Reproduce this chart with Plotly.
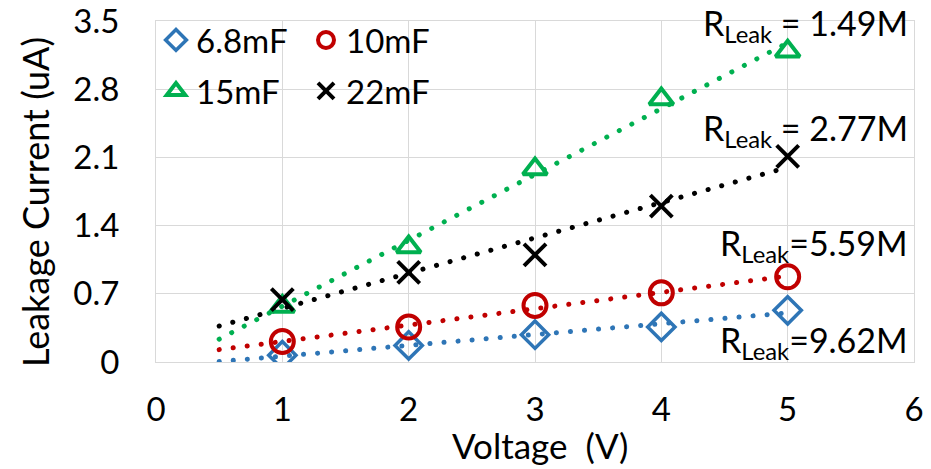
import numpy as np
import plotly.graph_objects as go

voltage = [1, 2, 3, 4, 5]
names = ["6.8mF", "10mF", "15mF", "22mF"]
i_68 = [0.07, 0.17, 0.28, 0.36, 0.53]
i_10 = [0.21, 0.36, 0.58, 0.71, 0.875]
i_15 = [0.57, 1.18, 1.98, 2.70, 3.19]
i_22 = [0.64, 0.92, 1.10, 1.60, 2.11]
trend_range = [0.5, 5]
rleak_labels = ["R<sub>Leak</sub>=9.62M", "R<sub>Leak</sub>=5.59M",
                "R<sub>Leak</sub> = 1.49M", "R<sub>Leak</sub> = 2.77M"]
y_ticks = [0, 0.7, 1.4, 2.1, 2.8, 3.5]
x_ticks = [0, 1, 2, 3, 4, 5, 6]

colors = ["#2E75B6", "#C00000", "#00B050", "#000000"]
symbols = ["diamond-open", "circle-open", "triangle-up-open", "x-thin-open"]
msizes = [21, 23, 21, 22]
mwidths = [3.5, 4, 4, 4]
legends = ["legend", "legend", "legend2", "legend2"]
series = [i_68, i_10, i_15, i_22]

FONT = "Lato, Calibri, Carlito, sans-serif"
L, R, T, B = 156, 914, 21, 362
fig = go.Figure()

for ys, col in zip(series, colors):
    k, b = np.polyfit(voltage, ys, 1)
    tx = np.array(trend_range, dtype=float)
    fig.add_trace(go.Scatter(x=tx, y=k * tx + b, mode="lines",
                             line=dict(color=col, width=5, dash="0.1px,14px"),
                             showlegend=False, hoverinfo="skip"))

for ys, col, sym, ms, mw, nm, lg in zip(series, colors, symbols, msizes, mwidths, names, legends):
    fig.add_trace(go.Scatter(x=voltage, y=ys, mode="markers", name=nm, legend=lg,
                             marker=dict(symbol=sym, size=ms, color=col,
                                         line=dict(color=col, width=mw))))

def px(x):
    return (x - L) / (R - L)

def py(y):
    return 1 - (y - T) / (B - T)

ann_pos = [(910, 342), (910, 245), (910, 25), (910, 130)]
for txt, (ax, ay) in zip(rleak_labels, ann_pos):
    fig.add_annotation(text=txt, xref="paper", yref="paper", x=px(ax), y=py(ay),
                       xanchor="right", yanchor="middle", showarrow=False,
                       font=dict(family=FONT, size=34, color="#000"))

fig.add_annotation(text="Voltage  (V)", xref="paper", yref="paper",
                   x=px(540), y=py(445), xanchor="center", yanchor="middle",
                   showarrow=False, font=dict(family=FONT, size=35, color="#000"))
fig.add_annotation(text="Leakage Current (uA)", xref="paper", yref="paper",
                   x=px(35), y=py(202), textangle=-90,
                   xanchor="center", yanchor="middle", showarrow=False,
                   font=dict(family=FONT, size=36, color="#000"))

legend_common = dict(orientation="h", xanchor="left", yanchor="top",
                     bgcolor="rgba(0,0,0,0)", entrywidth=105, entrywidthmode="pixels",
                     font=dict(family=FONT, size=33, color="#000"), itemwidth=30,
                     tracegroupgap=0)

fig.update_layout(
    width=931, height=469,
    margin=dict(l=L, r=931 - R, t=T, b=469 - B, autoexpand=False),
    paper_bgcolor="white", plot_bgcolor="white",
    font=dict(family=FONT, size=32, color="#000"),
    showlegend=True,
    legend=dict(x=0.0, y=py(12), **legend_common),
    legend2=dict(x=0.0, y=py(63), **legend_common),
    xaxis=dict(range=[0, 6], tickvals=x_ticks, showgrid=True, gridcolor="#D9D9D9",
               gridwidth=1, zeroline=False, showline=True, linecolor="#D9D9D9",
               mirror=True, ticks="", ticklabelstandoff=18, automargin=False,
               ticklabeloverflow="allow", tickfont=dict(family=FONT, size=33)),
    yaxis=dict(range=[0, 3.5], tickvals=y_ticks, showgrid=True, gridcolor="#D9D9D9",
               gridwidth=1, zeroline=False, showline=True, linecolor="#D9D9D9",
               mirror=True, ticks="", ticklabelstandoff=29, automargin=False,
               ticklabeloverflow="allow", tickfont=dict(family=FONT, size=33)),
)

fig.write_html("out.html", config={"displayModeBar": False},
               post_script="document.body.style.margin='0';document.body.style.padding='0';"
                           "document.querySelectorAll('path.js-line').forEach(function(p){p.style.strokeLinecap='round';});")
